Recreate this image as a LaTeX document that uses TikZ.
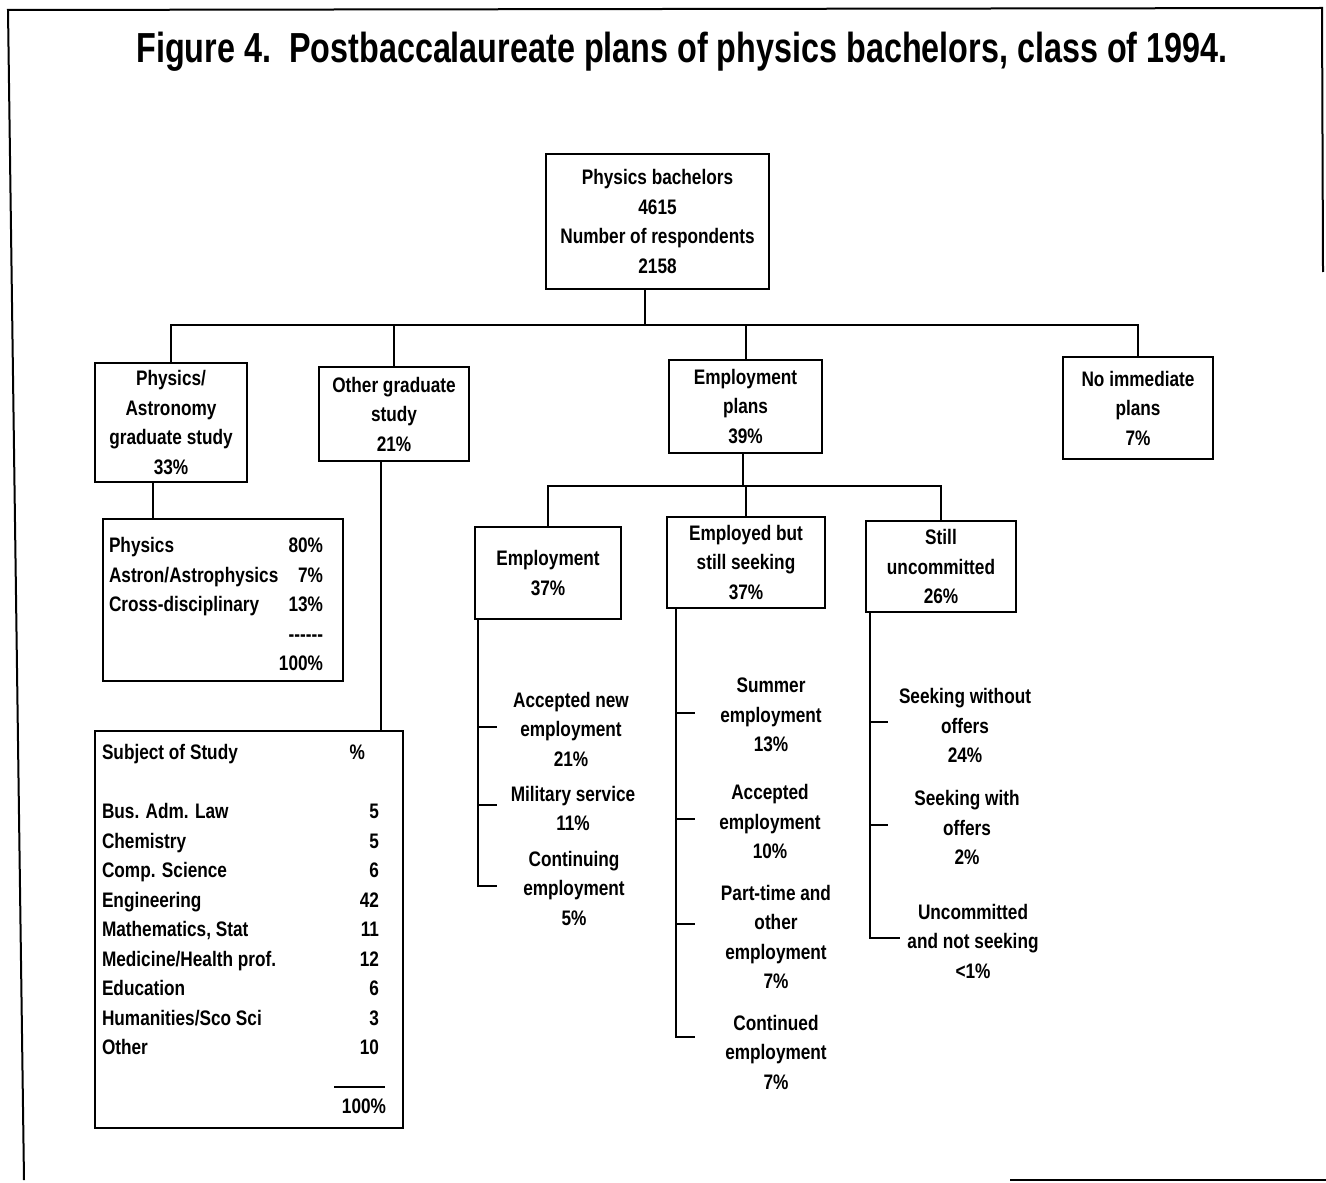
\documentclass[tikz,border=0pt]{standalone}
\usepackage{fontspec}
\setmainfont[FakeStretch=0.82]{Liberation Sans}
\newfontfamily\ttlfont[FakeStretch=0.77]{Liberation Sans}
\newcommand\bdfont{\fontsize{10.5pt}{14.75pt}\selectfont\bfseries}
\begin{document}
\begin{tikzpicture}[x=0.5pt,y=-0.5pt,
  box/.style={draw,line width=1.2pt,inner sep=0pt,align=center,font=\bdfont},
  lbl/.style={inner sep=0pt,align=center,font=\bdfont,yshift=-1pt},
  tbl/.style={inner sep=0pt,font=\bdfont,yshift=-1pt},
  conn/.style={line width=1pt},
  frame/.style={line width=1pt}]
\useasboundingbox (0,0) rectangle (1326,1182);
% frame
\draw[frame] (24,1180) -- (8,10) -- (1322,8) -- (1323,272);
\draw[frame] (1010,1180) -- (1326,1180);
% title
\node[inner sep=0pt,font=\ttlfont\bfseries\fontsize{21pt}{25pt}\selectfont] (title) at (682,52)
  {Figure 4.\ \ Postbaccalaureate plans of physics bachelors, class of 1994.};
% boxes
\node[box,minimum width=111.5pt,minimum height=67.5pt] (top) at (657.5,221.5)
  {Physics bachelors\\4615\\Number of respondents\\2158};
\node[box,minimum width=76pt,minimum height=59.5pt] (A) at (171,422.5)
  {Physics/\\Astronomy\\graduate study\\33\%};
\node[box,minimum width=75pt,minimum height=47pt] (B) at (394,414)
  {Other graduate\\study\\21\%};
\node[box,minimum width=76.5pt,minimum height=46.5pt] (C) at (745.5,406.5)
  {Employment\\plans\\39\%};
\node[box,minimum width=75pt,minimum height=51pt] (D) at (1138,408)
  {No immediate\\plans\\7\%};
\node[box,minimum width=120pt,minimum height=81pt] (E) at (223,600) {};
\node[tbl] (Et) at (216,604)
  {\begin{tabular*}{107pt}{@{}l@{\extracolsep{\fill}}r@{}}
   Physics & 80\%\\
   Astron/Astrophysics & 7\%\\
   Cross-disciplinary & 13\%\\
   & {-}{-}{-}{-}{-}{-}\\
   & 100\%
   \end{tabular*}};
\node[box,minimum width=154pt,minimum height=198.5pt] (F) at (249,929.5) {};
\node[tbl] (Ft) at (240.5,929)
  {\begin{tabular*}{138.5pt}{@{}l@{\extracolsep{\fill}}r@{}}
   Subject of Study & \%\hspace*{7pt}\\
   & \\
   Bus. Adm. Law & 5\\
   Chemistry & 5\\
   Comp. Science & 6\\
   Engineering & 42\\
   Mathematics, Stat & 11\\
   Medicine/Health prof. & 12\\
   Education & 6\\
   Humanities/Sco Sci & 3\\
   Other & 10\\
   & \\
   & 100\%\hspace*{-3.5pt}
   \end{tabular*}};
\draw[conn] (334,1087) -- (385,1087);
\node[box,minimum width=73pt,minimum height=46pt] (G) at (548,573)
  {Employment\\37\%};
\node[box,minimum width=79pt,minimum height=45.5pt] (H) at (746,562.5)
  {Employed but\\still seeking\\37\%};
\node[box,minimum width=75pt,minimum height=45.5pt] (I) at (941,566.5)
  {Still\\uncommitted\\26\%};
% labels
\node[lbl] (g1) at (571,727) {Accepted new\\employment\\21\%};
\node[lbl] (g2) at (573,806.5) {Military service\\11\%};
\node[lbl] (g3) at (574,886) {Continuing\\employment\\5\%};
\node[lbl] (h1) at (771,713) {Summer\\employment\\13\%};
\node[lbl] (h2) at (770,819.5) {Accepted\\employment\\10\%};
\node[lbl] (h3) at (776,935) {Part-time and\\other\\employment\\7\%};
\node[lbl] (h4) at (776,1050) {Continued\\employment\\7\%};
\node[lbl] (i1) at (965,723.5) {Seeking without\\offers\\24\%};
\node[lbl] (i2) at (967,825.5) {Seeking with\\offers\\2\%};
\node[lbl] (i3) at (973,939) {Uncommitted\\and not seeking\\<1\%};
% level 1 connectors
\coordinate (bus) at (645,325);
\draw[conn] (top.south -| bus) -- (bus);
\draw[conn] (A.north) -- (A.north |- bus) -- (D.north |- bus) -- (D.north);
\draw[conn] (B.north) -- (B.north |- bus);
\draw[conn] (C.north) -- (C.north |- bus);
\coordinate (ax) at (153,0);
\draw[conn] (A.south -| ax) -- (E.north -| ax);
\coordinate (bx) at (381,0);
\draw[conn] (B.south -| bx) -- (F.north -| bx);
% level 2 connectors
\coordinate (bus2) at (743,486);
\draw[conn] (C.south -| bus2) -- (bus2);
\draw[conn] (G.north) -- (G.north |- bus2) -- (I.north |- bus2) -- (I.north);
\draw[conn] (H.north) -- (H.north |- bus2);
% trunks and ticks
\coordinate (gx) at (478,0);
\coordinate (hx) at (676,0);
\coordinate (ix) at (870,0);
\draw[conn] (G.south -| gx) -- (gx |- 0,886) -- (497,886);
\draw[conn] (gx |- 0,727) -- (497,727);
\draw[conn] (gx |- 0,805) -- (497,805);
\draw[conn] (H.south -| hx) -- (hx |- 0,1037) -- (695,1037);
\draw[conn] (hx |- 0,713) -- (695,713);
\draw[conn] (hx |- 0,819) -- (695,819);
\draw[conn] (hx |- 0,924) -- (695,924);
\draw[conn] (I.south -| ix) -- (ix |- 0,938) -- (900,938);
\draw[conn] (ix |- 0,722) -- (888,722);
\draw[conn] (ix |- 0,825) -- (888,825);
\end{tikzpicture}
\end{document}
